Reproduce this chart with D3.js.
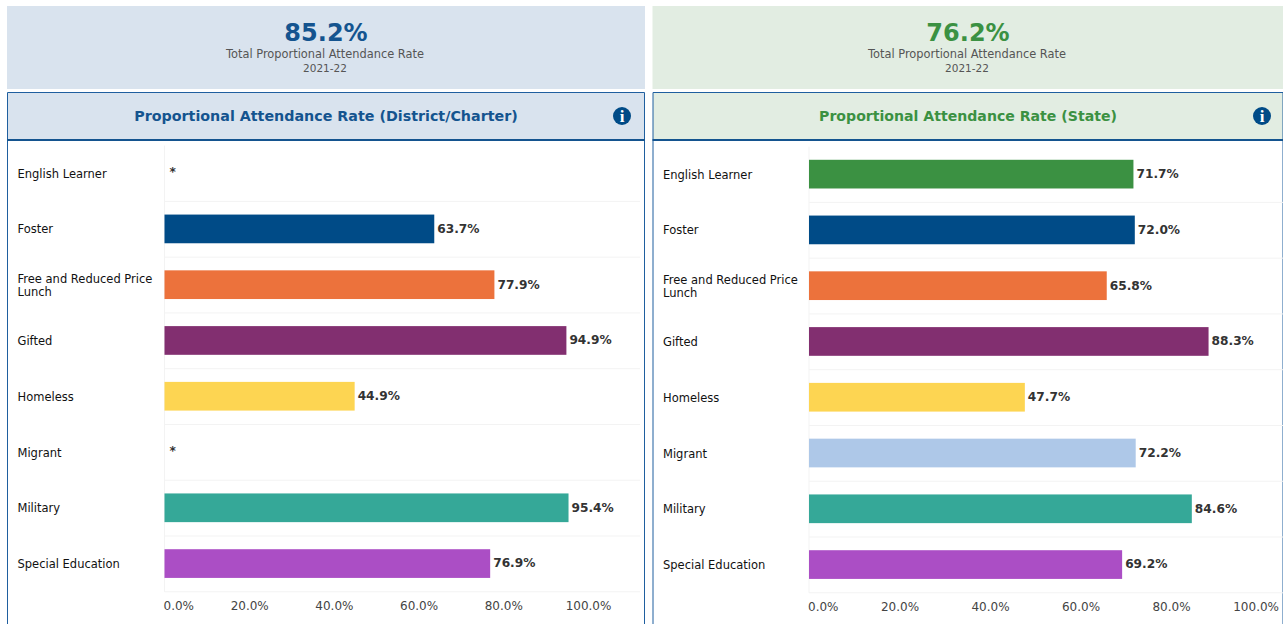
<!DOCTYPE html>
<html><head><meta charset="utf-8">
<script src="https://cdn.jsdelivr.net/npm/d3@7"></script>
<style>
html,body{margin:0;padding:0;background:#fff;overflow:hidden}
svg{display:block}
text{font-family:"DejaVu Sans",Verdana,sans-serif}
</style></head><body>
<svg id="c" width="1283" height="624"></svg>
<script>
const categories = ["English Learner","Foster","Free and Reduced Price Lunch","Gifted","Homeless","Migrant","Military","Special Education"];
const colors = ["#3b9142","#004b87","#ec723c","#822f70","#fdd552","#aec8e8","#35a898","#ab4ec5"];
const districtValues = [null,63.7,77.9,94.9,44.9,null,95.4,76.9];
const stateValues = [71.7,72.0,65.8,88.3,47.7,72.2,84.6,69.2];
const tickValues = [0,20,40,60,80,100];
const panels = [
 {title:"Proportional Attendance Rate (District/Charter)",titleSize:14.28,total:"85.2%",sub:"Total Proportional Attendance Rate",year:"2021-22",
  values:districtValues,fg:"#14548f",bg:"#d9e3ee",x:7,w:638,x0:164.5,x100:588,xEnd:640,y0:145.6,y1:591.8,labelX:17.5,bigY:41,titleCx:326,infoX:622},
 {title:"Proportional Attendance Rate (State)",titleSize:14.1,total:"76.2%",sub:"Total Proportional Attendance Rate",year:"2021-22",
  values:stateValues,fg:"#3b9142",bg:"#e2ede2",x:652.5,w:631,x0:809,x100:1261.5,xEnd:1283,y0:146.6,y1:592.8,labelX:663,bigY:41,titleCx:968,infoX:1262}
];
const svg = d3.select("#c");
panels.forEach(p=>{
  const g = svg.append("g");
  g.append("rect").attr("x",p.x).attr("y",6).attr("width",p.w).attr("height",83).attr("fill",p.bg);
  g.append("text").attr("x",p.titleCx).attr("y",p.bigY).attr("text-anchor","middle").attr("font-size",24).attr("font-weight","bold").attr("fill",p.fg).text(p.total);
  g.append("text").attr("x",p.titleCx-1).attr("y",58).attr("text-anchor","middle").attr("font-size",11.4).attr("fill","#555").text(p.sub);
  g.append("text").attr("x",p.titleCx-1).attr("y",71.5).attr("text-anchor","middle").attr("font-size",10.5).attr("fill","#555").text(p.year);
  g.append("rect").attr("x",p.x+.5).attr("y",93).attr("width",p.w-1).attr("height",47).attr("fill",p.bg);
  g.append("path").attr("d",`M${p.x+.5},624V92.5H${p.x+p.w-.5}V624`).attr("fill","none").attr("stroke","#1f5f9f").attr("stroke-width",1);
  g.append("line").attr("x1",p.x).attr("x2",p.x+p.w).attr("y1",140).attr("y2",140).attr("stroke","#14548f").attr("stroke-width",2);
  g.append("text").attr("x",p.titleCx).attr("y",121).attr("text-anchor","middle").attr("font-size",p.titleSize).attr("font-weight","bold").attr("fill",p.fg).text(p.title);
  g.append("circle").attr("cx",p.infoX).attr("cy",116).attr("r",9).attr("fill","#004b87");
  g.append("text").attr("x",p.infoX).attr("y",122).attr("text-anchor","middle").attr("font-size",17).attr("font-weight","bold").attr("fill","#fff").style("font-family","'Liberation Serif',serif").text("i");

  const x = d3.scaleLinear().domain([0,100]).range([p.x0,p.x100]);
  const y = d3.scaleBand().domain(categories).range([p.y0,p.y1]);
  g.append("g").selectAll("line").data(categories).join("line")
    .attr("x1",p.x0).attr("x2",p.xEnd).attr("y1",d=>y(d)+y.bandwidth()).attr("y2",d=>y(d)+y.bandwidth())
    .attr("stroke","#f3f3f3");
  g.append("line").attr("x1",p.x0).attr("x2",p.x0).attr("y1",p.y0).attr("y2",p.y1).attr("stroke","#f3f3f3");

  const rows = categories.map((c,i)=>({c,v:p.values[i],col:colors[i]}));
  g.append("g").selectAll("rect").data(rows.filter(d=>d.v!==null)).join("rect")
    .attr("x",p.x0).attr("width",d=>x(d.v)-p.x0)
    .attr("y",d=>y(d.c)+y.bandwidth()/2-14.7).attr("height",28.7).attr("fill",d=>d.col);
  g.append("g").selectAll("text").data(rows).join("text")
    .attr("x",d=>d.v===null?p.x0+5:x(d.v)+3)
    .attr("y",d=>y(d.c)+y.bandwidth()/2+(d.v===null?2.5:3.5))
    .attr("font-size",12.2).attr("font-weight","bold").attr("fill","#333")
    .text(d=>d.v===null?"*":d3.format(".1f")(d.v)+"%");

  const labels = g.append("g").selectAll("text").data(categories).join("text")
    .attr("x",p.labelX).attr("font-size",11.5).attr("fill","#111");
  labels.each(function(d){
    const sel=d3.select(this), cy=y(d)+y.bandwidth()/2;
    if(d.startsWith("Free")){
      sel.append("tspan").attr("x",p.labelX).attr("y",cy-2.3).text("Free and Reduced Price");
      sel.append("tspan").attr("x",p.labelX).attr("y",cy+10.7).text("Lunch");
    } else sel.attr("y",cy+4.2).text(d);
  });

  const axis = d3.axisBottom(x).tickValues(tickValues).tickSize(0).tickPadding(0).tickFormat(d=>d3.format(".1f")(d)+"%");
  const ax = g.append("g").attr("transform",`translate(0,${p.y1+9.5})`).call(axis);
  ax.select(".domain").remove();
  ax.selectAll("text").attr("font-size",12).attr("fill","#444").style("font-family","'DejaVu Sans',sans-serif")
    .attr("dy","0.71em")
    .attr("text-anchor",d=>d===0?"start":(d===100&&p.x100+22>p.xEnd?"end":"middle"))
    .attr("dx",d=>d===0?-1.5:(d===100&&p.x100+22>p.xEnd?17:0));
});
</script></body></html>
